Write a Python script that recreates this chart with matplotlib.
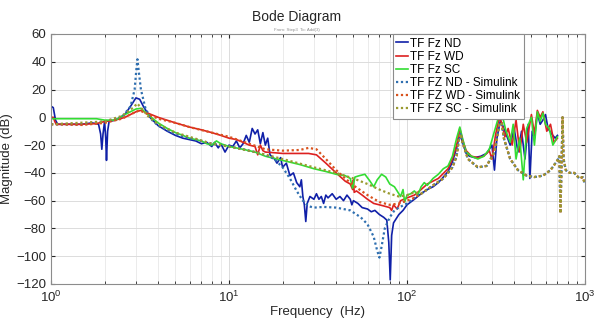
import matplotlib
matplotlib.use("Agg")
import matplotlib.pyplot as plt
from matplotlib.ticker import LogLocator, NullFormatter

plt.rcParams['font.family'] = ['Liberation Sans', 'DejaVu Sans']

# ---------------- data ----------------
nd_f = [1.0, 1.03, 1.06, 1.09, 1.3, 1.5, 1.7, 1.85, 1.9, 1.93, 1.96, 2.0, 2.03, 2.05, 2.08, 2.12,
        2.3, 2.6, 2.8, 3.0, 3.15, 3.3, 3.6, 4.0, 4.5, 5.0, 5.5, 6.0, 6.5, 7.0, 7.5, 8.0, 8.3, 8.7,
        9.0, 9.5, 10.0, 10.5, 11, 11.5, 12, 12.5, 13, 13.5, 14, 14.5, 15, 15.5, 16, 16.5, 17, 18,
        18.6, 19.5, 20, 21, 22, 23, 24, 25, 25.5, 26, 26.5, 27, 27.5, 28.5, 30, 31, 32, 33, 34, 35,
        36, 38, 40, 42, 44, 46, 48, 49, 50, 53, 56, 60, 63, 66, 70, 74, 77, 79, 80.5, 82, 84, 87,
        90, 95, 100, 110, 120, 130, 140, 150, 160, 170, 180, 190, 198, 205, 215, 225, 240, 260,
        280, 300, 310, 320, 335, 345, 360, 380, 400, 420, 440, 460, 480, 490, 505, 520, 540, 560,
        580, 600, 620, 650, 680, 700]
nd_db = [8, 7, -2, -5, -5, -5, -4, -5, -12, -23, -12, -3, -15, -31, -10, -3,
         -2, 2, 8, 14, 13, 8, 0, -6, -10, -13, -15, -16, -17, -19, -18, -21, -18, -22,
         -19, -25, -20, -21, -17, -22, -19, -13, -18, -8, -12, -9, -19, -11, -20, -15, -27, -30,
         -33, -29, -36, -33, -42, -40, -47, -50, -45, -57, -63, -75, -62, -57, -59, -55, -59, -57, -62, -56,
         -58, -55, -59, -57, -60, -56, -59, -63, -60, -62, -65, -66, -68, -67, -70, -72, -74, -90, -117, -85, -76, -73,
         -70, -67, -63, -59, -55, -52, -50, -47, -43, -39, -32, -22, -12, -18, -26, -28, -29, -28,
         -26, -20, -38, -15, -2, -6, -12, -20, -8, -25, -10, -30, -5, -44, -10, -15, 3, -5,
         -2, 2, -8, -12, -15, -13]

wd_f = [1.0, 1.03, 1.05, 1.07, 1.5, 1.8, 2.0, 2.3, 2.6, 3.0, 3.2, 3.5, 4.0, 5.0, 6.0, 7.0, 8.0,
        9.0, 10, 11, 12, 13, 14, 14.5, 15, 15.5, 16, 18, 20, 22, 25, 28, 31, 35, 40, 45, 48, 49.5,
        50, 50.5, 52, 56, 60, 65, 70, 75, 80, 82, 84, 88, 92, 100, 110, 120, 130, 150, 170, 180,
        190, 198, 205, 215, 230, 250, 270, 290, 300, 315, 330, 340, 355, 370, 390, 410, 430, 450,
        470, 500, 520, 540, 560, 580, 610, 640, 670, 700]
wd_db = [0, 0, -3, -5, -5, -4.5, -3, -2, 0, 4, 5, 3, 0, -4, -7, -9, -11,
         -13, -15, -16, -18, -20, -21, -27, -20, -24, -25, -25.5, -26, -26, -26, -26, -27, -33, -40, -46, -48, -52,
         -45, -54, -53, -56, -59, -62, -63, -64, -65, -67, -63, -66, -60, -58, -56, -52, -48, -44, -37, -30,
         -20, -8, -16, -24, -28, -29, -28, -24, -30, -12, 0, -4, -14, -8, -20, -2, -25, -5,
         -18, 2, -12, 5, 0, 4, -10, -5, -18, -15]

sc_f = [1.0, 1.5, 1.8, 2.0, 2.3, 2.6, 3.0, 3.2, 3.5, 4.0, 4.5, 5.0, 5.5, 6.0, 7.0, 7.5, 8.0, 8.5,
        9.0, 10.0, 12, 14, 16, 20, 25, 30, 35, 40, 45, 48, 49.5, 51, 54, 58, 62, 65, 68, 72, 76, 80,
        85, 88, 92, 95, 97, 100, 105, 110, 115, 120, 125, 130, 140, 150, 160, 170, 180, 190, 198,
        205, 215, 230, 250, 270, 290, 310, 330, 345, 360, 380, 395, 410, 430, 450, 470, 500, 520,
        540, 560, 580, 600, 630, 660, 700]
sc_db = [-1, -1, -1, -2, -2, 2, 6, 6.5, 2, -4, -8, -11, -13, -15, -17, -19, -20, -17,
         -19, -21, -23, -25, -28, -31, -34, -37, -39, -41, -42, -44, -51, -43, -42, -41, -46, -50, -45, -41, -43, -48,
         -50, -53, -57, -52, -61, -56, -55, -53, -56, -50, -47, -49, -44, -41, -37, -35, -28, -15, -7,
         -15, -25, -28, -30, -28, -23, -10, 2, 0, -10, -18, -5, -30, -15, -45, -8, 0, -20,
         4, -3, 3, -5, -8, -20, -14]

# Simulink curves (high-frequency part is common to all three models)
sim_hf_f = [120, 140, 160, 180, 190, 196, 200, 205, 220, 250, 280, 310, 330, 340, 350, 380, 420,
            470, 520, 580, 640, 700, 718, 728, 738, 748, 758, 780, 820, 870, 930, 970, 1000]
sim_hf_db = [-55, -49, -44, -36, -28, -15, -12, -18, -30, -36, -35, -25, -5, -4, -15, -30, -38,
             -42, -43, -42, -38, -31, -28, -69, -35, 0, -30, -38, -40, -40, -44, -43, -48]

ndsim_f = [1.0, 1.5, 2.0, 2.5, 2.8, 2.95, 3.02, 3.06, 3.1, 3.2, 3.4, 3.7, 4.0, 5.0, 6.0, 7.0, 8.0,
           10, 12, 14, 16, 18, 20, 22, 24, 26, 28, 30, 34, 40, 48, 55, 60, 65, 68, 70, 72, 75, 80,
           85, 90, 100, 110]
ndsim_db = [-5, -5, -3, 0, 8, 20, 35, 41.8, 35, 20, 6, -2, -6, -12, -15, -17, -19,
            -21, -23, -25, -27, -30, -36, -44, -53, -60, -64, -65, -64.5, -65, -67, -72, -77, -86, -96, -101, -93, -80, -72,
            -67, -65, -62, -58]

wdsim_f = [1.0, 1.5, 2.0, 2.5, 3.0, 3.15, 3.4, 4.0, 5.0, 6.0, 8.0, 10, 13, 16, 20, 25, 28, 31, 35,
           40, 45, 50, 60, 70, 80, 90, 100, 110]
wdsim_db = [-5, -5.5, -4, -1, 4, 5, 3, -1, -4, -7, -11, -14, -19, -23, -24, -23.5, -22, -23, -30,
            -38, -44, -49, -56, -61, -63, -62, -60, -58]

scsim_f = [1.0, 2.0, 2.5, 2.9, 3.05, 3.2, 3.5, 4.0, 5.0, 6.0, 8.0, 10, 14, 20, 30, 40, 50, 60, 70,
           80, 90, 100, 110]
scsim_db = [-5, -3, 1, 7, 10, 7, 1, -5, -11, -14, -19, -21, -25, -30, -36, -40, -44, -48, -52,
            -55, -57, -56, -54]

labels = ['TF Fz ND', 'TF Fz WD', 'TF Fz SC',
          'TF FZ ND - Simulink', 'TF FZ WD - Simulink', 'TF FZ SC - Simulink']

# ---------------- figure ----------------
fig = plt.figure(figsize=(5.96, 3.2), dpi=100)
ax = fig.add_axes([51/596, 1 - 284/320, (585 - 51)/596, (284 - 34)/320])

dot = (0, (1, 1.2))
ax.plot(nd_f, nd_db, color='#1020a8', lw=1.2, label=labels[0])
ax.plot(wd_f, wd_db, color='#dd2020', lw=1.2, label=labels[1])
ax.plot(sc_f, sc_db, color='#33dd33', lw=1.2, label=labels[2])
ax.plot(ndsim_f + sim_hf_f, ndsim_db + sim_hf_db, color='#2f6fb0', lw=1.6, ls=dot, label=labels[3])
ax.plot(wdsim_f + sim_hf_f, wdsim_db + sim_hf_db, color='#d9531e', lw=1.6, ls=dot, label=labels[4])
ax.plot(scsim_f + sim_hf_f, scsim_db + sim_hf_db, color='#9a9a30', lw=1.6, ls=dot, label=labels[5])

ax.set_xscale('log')
ax.set_xlim(1, 1000)
ax.set_ylim(-120, 60)
ax.set_yticks(range(-120, 61, 20))
ax.xaxis.set_major_locator(LogLocator(base=10, numticks=10))
ax.xaxis.set_minor_locator(LogLocator(base=10, subs=range(2, 10), numticks=20))
ax.xaxis.set_minor_formatter(NullFormatter())

ax.grid(True, which='major', color='#dcdcdc', lw=0.7)
ax.grid(True, which='minor', axis='x', color='#e8e8e8', lw=0.6)
ax.set_axisbelow(True)

for s in ax.spines.values():
    s.set_color('#8c8c8c')
    s.set_linewidth(0.8)
ax.tick_params(which='both', direction='in', top=True, right=True, colors='#262626',
               labelsize=9.5, length=3)
ax.tick_params(which='minor', length=2)
ax.tick_params(axis='x', pad=4)

ax.set_xlabel('Frequency  (Hz)', fontsize=9.5, color='#262626', labelpad=1)
ax.set_ylabel('Magnitude (dB)', fontsize=9.5, color='#262626', labelpad=2)

fig.text(0.498, 1 - 17/320, 'Bode Diagram', ha='center', va='center', fontsize=10, color='#262626')
fig.text(0.498, 1 - 30/320, 'From: Step3  To: Add(3)', ha='center', va='center', fontsize=3.2, color='#909090')

leg = ax.legend(loc='upper left', bbox_to_anchor=(0.64, 1.0), fontsize=8.5, handlelength=1.0,
                handletextpad=0.2, labelspacing=0.1, borderpad=0.3, borderaxespad=0.0,
                fancybox=False, framealpha=1.0, edgecolor='#8c8c8c')
leg.get_frame().set_linewidth(0.8)

fig.savefig('out.png', dpi=100)
